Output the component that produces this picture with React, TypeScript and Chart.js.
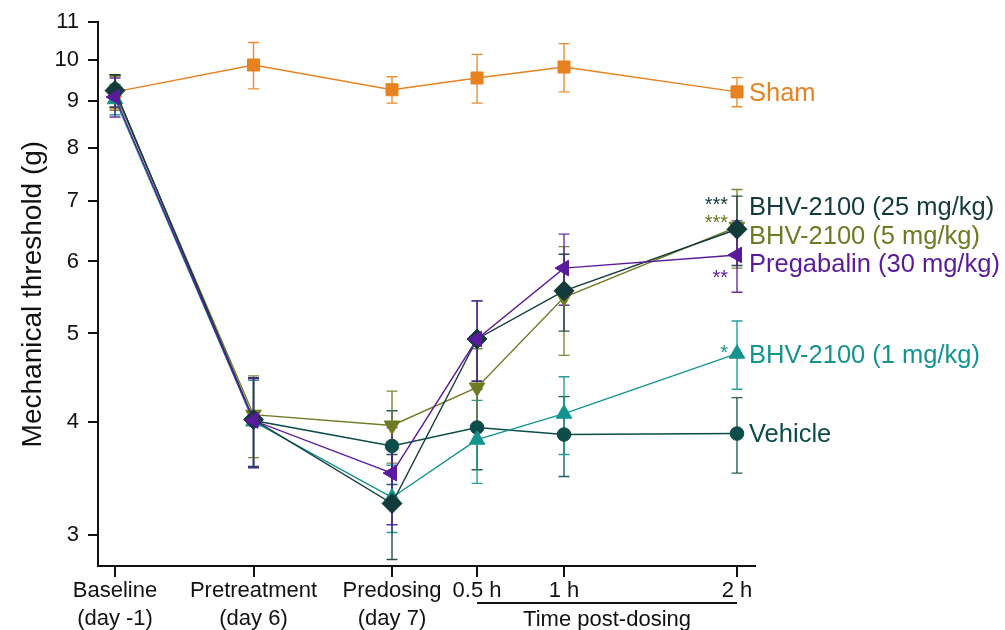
import { useEffect, useRef } from 'react';
import { Chart, registerables } from 'chart.js';

Chart.register(...registerables);

// Time axis: three evenly spaced study days, then hours after dosing on a linear time scale
const timeLabels: (string | string[])[] = [
  ['Baseline', '(day -1)'],
  ['Pretreatment', '(day 6)'],
  ['Predosing', '(day 7)'],
  '0.5 h',
  '1 h',
  '2 h',
];
const timePositions = [0, 1, 2, 2.614, 3.242, 4.491];
const yTicks = [3, 4, 5, 6, 7, 8, 9, 10, 11];

// Mean mechanical threshold (g) and SEM for each group
const shamMean = [9.22, 9.87, 9.27, 9.55, 9.82, 9.22];
const shamSem = [0.38, 0.58, 0.31, 0.59, 0.6, 0.34];

const vehicleMean = [9.25, 4.01, 3.76, 3.94, 3.87, 3.88];
const vehicleSem = [0.38, 0.45, 0.35, 0.4, 0.39, 0.37];

const bhv1Mean = [9.05, 4.0, 3.3, 3.82, 4.08, 4.75];
const bhv1Sem = [0.35, 0.44, 0.28, 0.4, 0.4, 0.41];

const bhv5Mean = [9.2, 4.07, 3.96, 4.36, 5.48, 6.55];
const bhv5Sem = [0.4, 0.42, 0.36, 0.45, 0.75, 0.65];

const bhv25Mean = [9.25, 4.02, 3.25, 4.93, 5.57, 6.51];
const bhv25Sem = [0.38, 0.45, 0.43, 0.5, 0.54, 0.57];

const pregabalinMean = [9.1, 4.01, 3.51, 4.93, 5.9, 6.1];
const pregabalinSem = [0.45, 0.45, 0.43, 0.5, 0.53, 0.55];

const FONT = '"Liberation Sans", Arial, Helvetica, sans-serif';
const INK = '#111111';

type Series = {
  name: string;
  mean: number[];
  sem: number[];
  color: string;
  pointStyle: string;
  radius: number;
  rotation: number;
  order: number;
  labelDy: number;
  stars: string;
  starDy: number;
};

const series: Series[] = [
  { name: 'Sham', mean: shamMean, sem: shamSem, color: '#E8811F', pointStyle: 'rect', radius: 8.5, rotation: 0, order: 5, labelDy: 2, stars: '', starDy: 0 },
  { name: 'Vehicle', mean: vehicleMean, sem: vehicleSem, color: '#0C4D4A', pointStyle: 'circle', radius: 6.8, rotation: 0, order: 4, labelDy: 1, stars: '', starDy: 0 },
  { name: 'BHV-2100 (1 mg/kg)', mean: bhv1Mean, sem: bhv1Sem, color: '#13948F', pointStyle: 'triangle', radius: 9, rotation: 0, order: 3, labelDy: 2, stars: '*', starDy: -7 },
  { name: 'BHV-2100 (5 mg/kg)', mean: bhv5Mean, sem: bhv5Sem, color: '#6E7B23', pointStyle: 'triangle', radius: 9, rotation: 180, order: 2, labelDy: 10, stars: '***', starDy: -10 },
  { name: 'BHV-2100 (25 mg/kg)', mean: bhv25Mean, sem: bhv25Sem, color: '#133B3B', pointStyle: 'rectRot', radius: 10, rotation: 0, order: 1, labelDy: -21, stars: '***', starDy: -30 },
  { name: 'Pregabalin (30 mg/kg)', mean: pregabalinMean, sem: pregabalinSem, color: '#5A1A9C', pointStyle: 'triangle', radius: 9, rotation: -90, order: 0, labelDy: 10, stars: '**', starDy: 17 },
];

const errorBars = {
  id: 'errorBars',
  beforeDatasetsDraw(chart: any) {
    const { ctx, scales } = chart;
    const x = scales.x;
    const y = scales.y;
    const cap = 5.5;
    ctx.save();
    ctx.lineWidth = 1.4;
    [...series]
      .sort((a, b) => b.order - a.order)
      .forEach((s) => {
        ctx.strokeStyle = s.color;
        ctx.globalAlpha = 0.9;
        s.mean.forEach((m, i) => {
          const px = x.getPixelForValue(timePositions[i]);
          const top = y.getPixelForValue(m + s.sem[i]);
          const bot = y.getPixelForValue(m - s.sem[i]);
          ctx.beginPath();
          ctx.moveTo(px, top);
          ctx.lineTo(px, bot);
          ctx.moveTo(px - cap, top);
          ctx.lineTo(px + cap, top);
          ctx.moveTo(px - cap, bot);
          ctx.lineTo(px + cap, bot);
          ctx.stroke();
        });
      });
    ctx.restore();
  },
};

const annotations = {
  id: 'annotations',
  afterDraw(chart: any) {
    const { ctx, scales } = chart;
    const x = scales.x;
    const y = scales.y;
    const last = timePositions.length - 1;
    const endX = x.getPixelForValue(timePositions[last]);
    ctx.save();

    // Group names beside the final time point, with significance stars
    series.forEach((s) => {
      const endY = y.getPixelForValue(s.mean[last]);
      ctx.fillStyle = s.color;
      ctx.font = `25.5px ${FONT}`;
      ctx.textAlign = 'left';
      ctx.textBaseline = 'middle';
      ctx.fillText(s.name, endX + 12, endY + s.labelDy);
      if (s.stars) {
        ctx.font = `20px ${FONT}`;
        ctx.textAlign = 'right';
        ctx.textBaseline = 'alphabetic';
        ctx.fillText(s.stars, endX - 9, endY + s.starDy + 12);
      }
    });

    // Bracket under the post-dosing hours
    const x0 = x.getPixelForValue(timePositions[3]);
    const x1 = x.getPixelForValue(timePositions[last]);
    ctx.strokeStyle = INK;
    ctx.lineWidth = 2;
    ctx.beginPath();
    ctx.moveTo(x0, 603);
    ctx.lineTo(x1, 603);
    ctx.stroke();
    ctx.fillStyle = INK;
    ctx.font = `22px ${FONT}`;
    ctx.textAlign = 'center';
    ctx.textBaseline = 'middle';
    ctx.fillText('Time post-dosing', (x0 + x1) / 2, 620);
    ctx.restore();
  },
};

export default function App() {
  const ref = useRef<HTMLCanvasElement>(null);

  useEffect(() => {
    if (!ref.current) return;
    const chart = new Chart(ref.current, {
      type: 'line',
      data: {
        datasets: series.map((s) => ({
          label: s.name,
          data: timePositions.map((t, i) => ({ x: t, y: s.mean[i] })),
          borderColor: s.color,
          backgroundColor: s.color,
          borderWidth: 1.4,
          pointStyle: s.pointStyle as any,
          pointRadius: s.radius,
          pointRotation: s.rotation,
          pointBackgroundColor: s.color,
          pointBorderColor: s.color,
          pointBorderWidth: 1,
          order: s.order,
          tension: 0,
        })),
      },
      options: {
        animation: false,
        responsive: false,
        layout: { padding: { top: 20, right: 250, bottom: 0, left: 0 } },
        plugins: { legend: { display: false }, tooltip: { enabled: false } },
        scales: {
          x: {
            type: 'linear',
            min: -0.123,
            max: 4.621,
            afterBuildTicks: (scale: any) => {
              scale.ticks = timePositions.map((v) => ({ value: v }));
            },
            afterFit: (scale: any) => {
              scale.height = 64;
            },
            ticks: {
              autoSkip: false,
              maxRotation: 0,
              minRotation: 0,
              padding: 0,
              color: INK,
              font: { family: FONT, size: 22, lineHeight: 1.27 },
              callback: (_v: any, i: number) => timeLabels[i],
            },
            grid: { drawOnChartArea: false, tickLength: 11, color: INK, lineWidth: 2 },
            border: { display: true, color: INK, width: 2 },
          },
          y: {
            type: 'logarithmic',
            min: 2.774,
            max: 11,
            afterBuildTicks: (scale: any) => {
              scale.ticks = yTicks.map((v) => ({ value: v }));
            },
            afterFit: (scale: any) => {
              scale.width = 98;
            },
            ticks: {
              padding: 9,
              color: INK,
              font: { family: FONT, size: 22 },
              callback: (v: any) => String(v),
            },
            grid: { drawOnChartArea: false, tickLength: 10, color: INK, lineWidth: 2 },
            border: { display: true, color: INK, width: 2 },
            title: {
              display: true,
              text: 'Mechanical threshold (g)',
              color: INK,
              font: { family: FONT, size: 28 },
              padding: { top: 16, bottom: 0 },
            },
          },
        },
      },
      plugins: [errorBars, annotations],
    });
    return () => chart.destroy();
  }, []);

  return (
    <div style={{ position: 'fixed', left: 0, top: 0, width: 1005, height: 630, background: '#fff' }}>
      <canvas ref={ref} width={1005} height={630} style={{ display: 'block' }} />
    </div>
  );
}
